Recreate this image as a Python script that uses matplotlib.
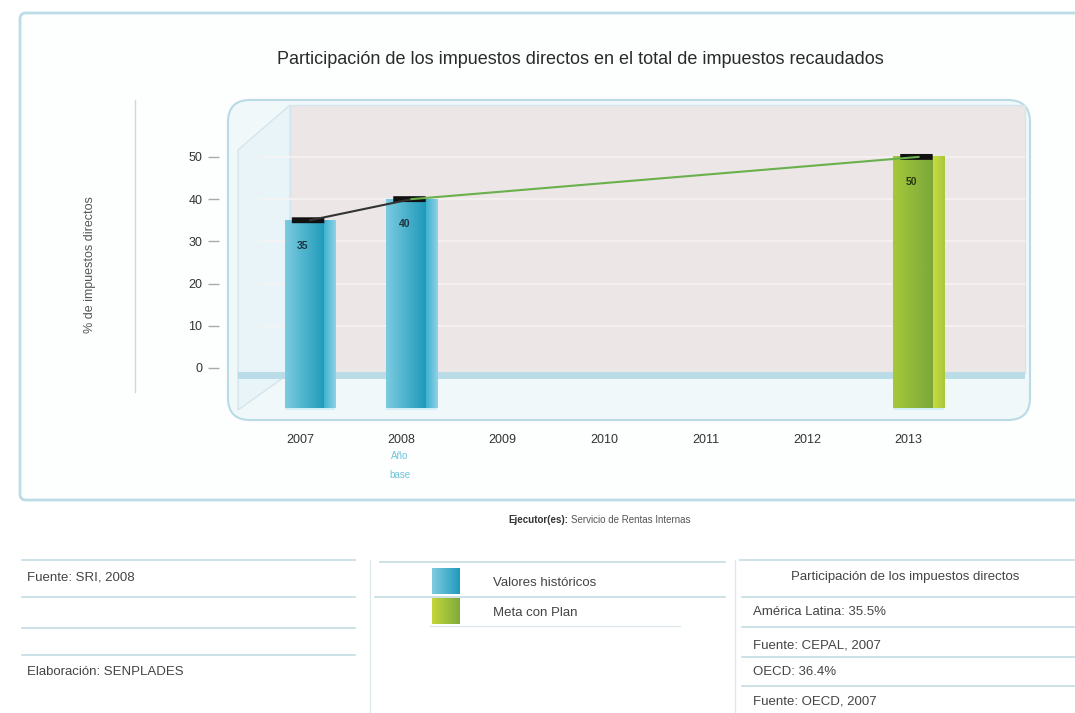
import matplotlib.pyplot as plt
import numpy as np
from matplotlib.patches import FancyBboxPatch, Rectangle, Polygon
from matplotlib.transforms import blended_transform_factory

plt.rcParams['font.family'] = ['Liberation Sans', 'DejaVu Sans']

# datos
years = [2007, 2008, 2009, 2010, 2011, 2012, 2013]
hist_years = [2007, 2008]
hist_values = [35, 40]
meta_years = [2013]
meta_values = [50]
yticks = [0, 10, 20, 30, 40, 50]

title = 'Participación de los impuestos directos en el total de impuestos recaudados'
ylabel = '% de impuestos directos'
left_rows = ['Fuente: SRI, 2008', '', 'Elaboración: SENPLADES']
legend_labels = ['Valores históricos', 'Meta con Plan']
right_header = 'Participación de los impuestos directos'
right_rows = ['América Latina: 35.5%', 'Fuente: CEPAL, 2007',
              'OECD: 36.4%', 'Fuente: OECD, 2007']

W, H = 1075, 713
fig = plt.figure(figsize=(W / 100, H / 100), dpi=100)
fig.patch.set_facecolor('white')

# capa de fondo en pixeles
bg = fig.add_axes([0, 0, 1, 1])
bg.set_xlim(0, W)
bg.set_ylim(H, 0)
bg.axis('off')

edge = '#bcdce6'
bg.add_patch(FancyBboxPatch((20, 13), 1080, 487, boxstyle='round,pad=0,rounding_size=6',
                            fc='#fdfefe', ec=edge, lw=2))
bg.plot([135, 135], [100, 392], color='#d6d6d6', lw=1)

# panel 3D
bg.add_patch(FancyBboxPatch((228, 100), 802, 320, boxstyle='round,pad=0,rounding_size=22',
                            fc='#f1f8fa', ec='#b8dbe6', lw=1.5))
bg.add_patch(Rectangle((290, 105), 735, 268, fc='#ece6e6', ec='#d3e6ec', lw=1))
bg.add_patch(Polygon([[238, 150], [290, 105], [290, 373], [238, 410]],
                     closed=True, fc='#e9f4f8', ec='#d3e6ec', lw=1))
bg.add_patch(Rectangle((238, 372), 787, 7, fc='#b9dce7', ec='none'))

bg.text(580, 60, title, ha='center', va='center', fontsize=13, color='#2a2a2a')
bg.text(90, 265, ylabel, ha='center', va='center', rotation=90, fontsize=9, color='#555555')
bg.text(400, 456, 'Año', ha='center', va='center', fontsize=7, color='#6ec3da')
bg.text(400, 475, 'base', ha='center', va='center', fontsize=7, color='#6ec3da')

bg.text(568, 520, 'Ejecutor(es):', ha='right', va='center', fontsize=7, fontweight='bold', color='#333333')
bg.text(571, 520, 'Servicio de Rentas Internas', ha='left', va='center', fontsize=7, color='#555555')

# tabla inferior
fs_t = 9.5
line_c = '#c3dbe3'
for y in [560, 597, 628, 655]:
    bg.plot([22, 355], [y, y], color=line_c, lw=1.2)
for y, t in zip([578, 612, 672], left_rows):
    bg.text(27, y, t, ha='left', va='center', fontsize=fs_t, color='#444444')

bg.plot([370, 370], [560, 713], color='#e0e8eb', lw=1)
bg.plot([735, 735], [560, 713], color='#e0e8eb', lw=1)
bg.plot([380, 725], [562, 562], color=line_c, lw=1.2)
bg.plot([375, 725], [597, 597], color=line_c, lw=1.2)
bg.plot([430, 680], [626, 626], color='#dde8ec', lw=1)

for y, t in zip([583, 613], legend_labels):
    bg.text(493, y, t, ha='left', va='center', fontsize=fs_t, color='#444444')

bg.plot([740, 1075], [560, 560], color=line_c, lw=1.2)
bg.text(905, 577, right_header, ha='center', va='center', fontsize=fs_t, color='#444444')
for y in [597, 627, 657, 686]:
    bg.plot([742, 1075], [y, y], color=line_c, lw=1.2)
for y, t in zip([612, 645, 672, 702], right_rows):
    bg.text(753, y, t, ha='left', va='center', fontsize=fs_t, color='#444444')


def grad_rect(ax, x0, x1, y0, y1, c_left, c_right, zorder=3):
    n = 64
    c0 = np.array(plt.matplotlib.colors.to_rgb(c_left))
    c1 = np.array(plt.matplotlib.colors.to_rgb(c_right))
    t = np.linspace(0, 1, n)[None, :, None]
    img = c0 + (c1 - c0) * t
    ax.imshow(img, extent=[x0, x1, y0, y1], aspect='auto', zorder=zorder,
              interpolation='bilinear')


# leyenda (gradientes)
grad_rect(bg, 432, 460, 594, 568, '#7fcbe0', '#1f9bbd', zorder=2)
grad_rect(bg, 432, 460, 624, 598, '#c4d63a', '#7fac3a', zorder=2)
bg.set_xlim(0, W)
bg.set_ylim(H, 0)

# eje de datos
ax = fig.add_axes([230 / W, 1 - 410 / H, 800 / W, 305 / H])
ax.patch.set_alpha(0)
xmin, xmax = 2006.31, 2014.2
ymin, ymax = -9.95, 62.3
ax.set_xlim(xmin, xmax)
ax.set_ylim(ymin, ymax)
for s in ax.spines.values():
    s.set_visible(False)

ax.hlines(yticks[1:], 2006.6, 2014.15, color='#f7f3f3', lw=1.2, zorder=1)

ax.set_yticks(yticks)
ax.set_yticklabels([str(v) for v in yticks], fontsize=9, color='#333333')
ax.tick_params(axis='y', length=0, pad=20)
ax.set_xticks(years)
ax.set_xticklabels([str(v) for v in years], fontsize=9, color='#333333')
ax.tick_params(axis='x', length=0, pad=17)

# guiones de las marcas
tr = blended_transform_factory(ax.transAxes, ax.transData)
ax.hlines(yticks, -0.028, -0.014, color='#aaaaaa', lw=1, transform=tr, clip_on=False)

bw = 0.5
off = 0.1
base = -9.5
for x, v in zip(hist_years, hist_values):
    xc = x + off
    grad_rect(ax, xc - bw / 2, xc + bw * 0.28, base, v, '#7ccbe0', '#1e9aba')
    grad_rect(ax, xc + bw * 0.28, xc + bw / 2, base, v, '#3fb0cf', '#8fd3e6')
    ax.add_patch(Rectangle((xc - bw / 2, base - 1.2), bw, 1.2, fc='#d4eef5', ec='none', zorder=2))
    ax.text(xc - 0.07, v - 6, str(v), ha='center', va='center', fontsize=7.5,
            fontweight='bold', color='#1d3540', zorder=5)
for x, v in zip(meta_years, meta_values):
    xc = x + off
    grad_rect(ax, xc - bw / 2, xc + bw * 0.28, base, v, '#a6c83a', '#7aa83a')
    grad_rect(ax, xc + bw * 0.28, xc + bw / 2, base, v, '#c9dc40', '#a8c83a')
    ax.add_patch(Rectangle((xc - bw / 2, base - 1.2), bw, 1.2, fc='#d4eef5', ec='none', zorder=2))
    ax.text(xc - 0.07, v - 6, str(v), ha='center', va='center', fontsize=7.5,
            fontweight='bold', color='#2a3a10', zorder=5)

# tapas oscuras
for x, v in zip(hist_years + meta_years, hist_values + meta_values):
    ax.add_patch(FancyBboxPatch((x + off - 0.18, v - 0.7), 0.32, 1.4,
                                boxstyle='round,pad=0,rounding_size=0.1',
                                fc='#111111', ec='none', zorder=6,
                                mutation_aspect=1 / 12))

# lineas
ax.plot([x + off for x in hist_years], hist_values, color='#333333', lw=1.5, zorder=7)
ax.plot([hist_years[-1] + off] + [x + off for x in meta_years],
        [hist_values[-1]] + meta_values, color='#6ab04c', lw=1.5, zorder=7)

ax.set_xlim(xmin, xmax)
ax.set_ylim(ymin, ymax)

fig.savefig('out.png', dpi=100)
